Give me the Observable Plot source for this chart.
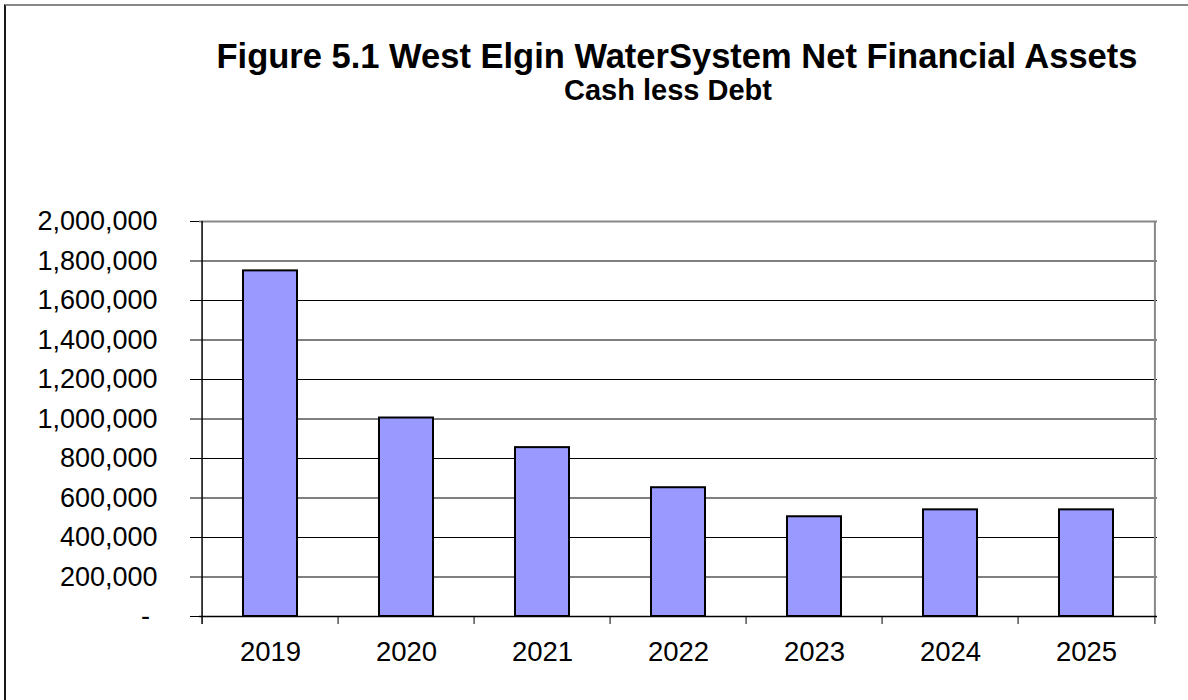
<!DOCTYPE html>
<html>
<head>
<meta charset="utf-8">
<script src="https://cdn.jsdelivr.net/npm/d3@7"></script>
<script src="https://cdn.jsdelivr.net/npm/@observablehq/plot@0.6"></script>
<style>
  html, body { margin: 0; padding: 0; background: #fff; }
  #wrap { position: relative; width: 1188px; height: 700px; overflow: hidden; background: #fff; font-family: "Liberation Sans", Arial, sans-serif; }
  #frame { position: absolute; left: 4px; top: 4px; width: 1200px; height: 720px; border-left: 2px solid #1a1a1a; border-top: 2px solid #888; box-sizing: border-box; }
  .ttl { position: absolute; white-space: nowrap; line-height: 1; font-weight: bold; color: #000; transform: translateX(-50%); }
  #title { left: 677px; top: 39px; font-size: 34.5px; }
  #subtitle { left: 668px; top: 76px; font-size: 29px; }
  #chart { position: absolute; left: 0; top: 0; }
</style>
</head>
<body>
<div id="wrap">
  <div id="frame"></div>
  <div id="chart"></div>
  <div id="title" class="ttl">Figure 5.1 West Elgin WaterSystem Net Financial Assets</div>
  <div id="subtitle" class="ttl">Cash less Debt</div>
</div>
<script>
const years = ["2019", "2020", "2021", "2022", "2023", "2024", "2025"];
const netAssets = [1750000, 1005000, 855000, 652000, 505000, 540000, 540000];
const yTicks = [0, 200000, 400000, 600000, 800000, 1000000, 1200000, 1400000, 1600000, 1800000, 2000000];

const data = years.map((y, i) => ({year: y, value: netAssets[i]}));

const W = 1188, H = 700, ML = 199, MR = 31, MT = 221, MB = 84;
const step = (W - ML - MR) / years.length;
const fmt = d3.format(",");

const chart = Plot.plot({
  width: W,
  height: H,
  marginLeft: ML,
  marginRight: MR,
  marginTop: MT,
  marginBottom: MB,
  style: {fontFamily: "'Liberation Sans', Arial, sans-serif", fontSize: "27px", color: "#000", background: "transparent", overflow: "visible"},
  x: {domain: years, paddingInner: 0.6, paddingOuter: 0.3, label: null},
  y: {domain: [0, 2000000], label: null},
  marks: [
    Plot.gridY(yTicks, {stroke: "#000", strokeOpacity: 1, strokeWidth: 1}),
    Plot.ruleY([2000000], {stroke: "#888", strokeWidth: 2}),
    Plot.ruleX([years[years.length - 1]], {stroke: "#888", strokeWidth: 2, dx: step / 2}),
    Plot.barY(data, {x: "year", y: "value", fill: "#9999ff", stroke: "#000", strokeWidth: 2}),
    Plot.ruleY([0], {stroke: "#000", strokeWidth: 1.5}),
    Plot.ruleX([years[0]], {stroke: "#000", strokeWidth: 1.5, dx: -step / 2, insetBottom: -8}),
    Plot.ruleX(years.slice(1), {y1: 0, y2: 0, stroke: "#000", strokeWidth: 1, dx: -step / 2, insetBottom: -8}),
    Plot.ruleX([years[years.length - 1]], {y1: 0, y2: 0, stroke: "#000", strokeWidth: 1, dx: step / 2, insetBottom: -8}),
    Plot.axisY(yTicks, {tickSize: 9, tickPadding: 33, tickFormat: d => d === 0 ? "-\u00a0" : fmt(d), fontSize: 27, stroke: "#000", strokeWidth: 1}),
    Plot.axisX({tickSize: 0, tickPadding: 25, fontSize: 27.5})
  ]
});
document.getElementById("chart").appendChild(chart);
</script>
</body>
</html>
